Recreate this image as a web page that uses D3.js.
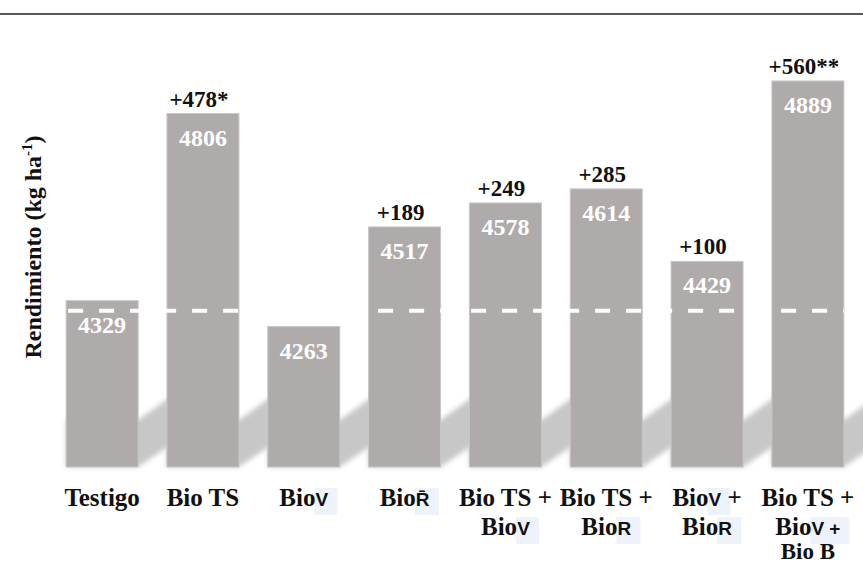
<!DOCTYPE html>
<html>
<head>
<meta charset="utf-8">
<script src="https://cdn.jsdelivr.net/npm/d3@7"></script>
<style>
  html, body { margin: 0; padding: 0; background: #ffffff; }
  svg { display: block; }
</style>
</head>
<body>
<div id="chart"></div>
<script>
// ---- data ----
const categories = ["Testigo", "Bio TS", "Bio V", "Bio R", "Bio TS + Bio V", "Bio TS + Bio R", "Bio V + Bio R", "Bio TS + Bio V + Bio B"];
const yields = [4329, 4806, 4263, 4517, 4578, 4614, 4429, 4889];
const increments = ["", "+478*", "", "+189", "+249", "+285", "+100", "+560**"];
const referenceYield = 4303;
// each line: segments separated by "|" alternate serif / sans
const labelLines = [
  ["Testigo"],
  ["Bio TS"],
  ["Bio|V"],
  ["Bio|R\u0304"],
  ["Bio TS +", "Bio|V"],
  ["Bio TS +", "Bio|R"],
  ["Bio|V|  +", "Bio|R"],
  ["Bio TS +", "Bio|V +", "Bio B"]
];
const yTitle = "Rendimiento (kg ha";
const yTitleSup = "-1";
const yDomain = [3905, 4905];

// ---- layout ----
const W = 863, H = 566;
const baseY = 467;
const svg = d3.select("#chart").append("svg").attr("width", W).attr("height", H);

const x = d3.scaleBand().domain(categories).range([50, 860]).paddingInner(0.286).paddingOuter(0.16);
const y = d3.scaleLinear().domain(yDomain).range([baseY, baseY - (yDomain[1] - yDomain[0]) * 0.3923]);

const serif = "'Liberation Serif', 'Times New Roman', serif";
const sans = "'Liberation Sans', Arial, sans-serif";

// top rule
svg.append("line").attr("x1", 0).attr("x2", W).attr("y1", 14).attr("y2", 14)
  .attr("stroke", "#575757").attr("stroke-width", 2);

// shadow filter
const defs = svg.append("defs");
defs.append("filter").attr("id", "blur").attr("x", "-20%").attr("y", "-20%").attr("width", "140%").attr("height", "140%")
  .append("feGaussianBlur").attr("stdDeviation", 2.5);

// shadows
const bw = x.bandwidth();
svg.append("g").selectAll("path").data(categories).join("path")
  .attr("filter", "url(#blur)")
  .attr("fill", "#c7c7c7")
  .attr("d", d => {
    const x0 = x(d), x1 = x(d) + bw, ext = 48;
    const p = [
      [x0, y(yDomain[0])],
      [x1, y(yDomain[0])],
      [x1 + ext, y(yDomain[0]) - 0.68 * ext],
      [x1 + ext, y(yDomain[0]) - 47 - 0.72 * ext],
      [x1, y(yDomain[0]) - 47],
      [x0, y(yDomain[0]) - 47]
    ];
    return "M" + p.map(q => q.join(",")).join("L") + "Z";
  });

// bars
svg.append("g").selectAll("rect").data(categories).join("rect")
  .attr("x", d => x(d))
  .attr("y", (d, i) => y(yields[i]))
  .attr("width", bw)
  .attr("height", (d, i) => y(yDomain[0]) - y(yields[i]))
  .attr("fill", "#afabaa")
  .attr("stroke", "#c9c6c6")
  .attr("stroke-width", 1);

// dashed reference line
svg.append("line")
  .attr("x1", x(categories[0]) + 2)
  .attr("x2", x(categories[categories.length - 1]) + bw)
  .attr("y1", y(referenceYield)).attr("y2", y(referenceYield))
  .attr("stroke", "#ffffff").attr("stroke-width", 4)
  .attr("stroke-dasharray", "15,16");

// value labels inside bars
svg.append("g").selectAll("text").data(categories).join("text")
  .attr("x", d => x(d) + bw / 2)
  .attr("y", (d, i) => y(yields[i]) + 32)
  .attr("text-anchor", "middle")
  .attr("font-family", serif).attr("font-weight", "bold").attr("font-size", 24)
  .attr("fill", "#ffffff")
  .text((d, i) => yields[i]);

// increments above bars
svg.append("g").selectAll("text").data(categories).join("text")
  .attr("x", d => x(d) + bw / 2 - 4)
  .attr("y", (d, i) => y(yields[i]) - 7)
  .attr("text-anchor", "middle")
  .attr("font-family", serif).attr("font-weight", "bold").attr("font-size", 23)
  .attr("fill", "#111111")
  .text((d, i) => increments[i]);

// category labels
const labG = svg.append("g");
const sansSpans = [];
const lineBase = [506, 535, 559];
categories.forEach((c, i) => {
  labelLines[i].forEach((line, li) => {
    const t = labG.append("text")
      .attr("x", x(c) + bw / 2)
      .attr("y", lineBase[li])
      .attr("text-anchor", "middle")
      .attr("font-family", serif).attr("font-weight", "bold").attr("font-size", li === 2 ? 23 : 25)
      .attr("fill", "#111111");
    line.split("|").forEach((seg, si) => {
      const sp = t.append("tspan").text(seg);
      if (si % 2 === 1) {
        sp.attr("font-family", sans).attr("font-size", 19);
        sansSpans.push(sp.node());
      }
    });
  });
});
// faint boxes behind the sans-serif pieces
const boxG = svg.insert("g", () => labG.node());
sansSpans.forEach(n => {
  const b = n.getBBox();
  boxG.append("rect")
    .attr("x", b.x - 1).attr("y", b.y - 1)
    .attr("width", b.width + 10).attr("height", b.height + 6)
    .attr("fill", "#eef3fb");
});

// y-axis title
const yt = svg.append("text")
  .attr("transform", "translate(41,247) rotate(-90)")
  .attr("text-anchor", "middle")
  .attr("font-family", serif).attr("font-weight", "bold").attr("font-size", 24)
  .attr("fill", "#111111");
yt.append("tspan").text(yTitle);
yt.append("tspan").attr("font-size", 15).attr("dy", -9).text(yTitleSup);
yt.append("tspan").attr("dy", 9).text(")");
</script>
</body>
</html>
